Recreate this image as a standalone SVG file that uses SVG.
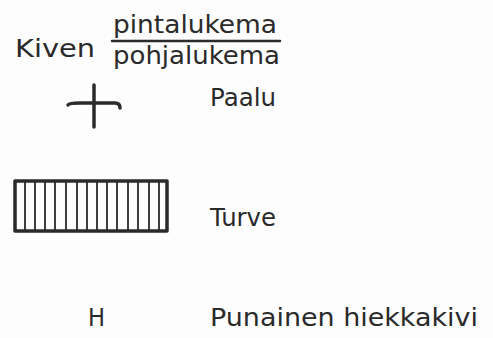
<svg xmlns="http://www.w3.org/2000/svg" width="493" height="338" viewBox="0 0 493 338">
<style>
text{font-family:"DejaVu Sans","Liberation Sans",sans-serif;font-size:24px;fill:#2a2a2a}
.ln{stroke:#2a2a2a;fill:none;stroke-linecap:round}
</style>
<rect width="493" height="338" fill="#fdfdfd"/>
<g id="title">
<text x="15" y="57" textLength="80" lengthAdjust="spacingAndGlyphs">Kiven</text>
<text x="113" y="33" textLength="164" lengthAdjust="spacingAndGlyphs">pintalukema</text>
<line class="ln" x1="112" y1="41" x2="280" y2="41" stroke-width="2.5"/>
<text x="113" y="64" textLength="167" lengthAdjust="spacingAndGlyphs">pohjalukema</text>
</g>
<g id="paalu">
<path class="ln" d="M94 85 V127" stroke-width="3.5"/>
<path class="ln" d="M68 105 Q69 103 80 103 H115 Q120 103 120 108" stroke-width="3.5"/>
<text x="210" y="106" textLength="66" lengthAdjust="spacingAndGlyphs">Paalu</text>
</g>
<g id="turve">
<rect class="ln" x="15" y="181" width="152" height="50" stroke-width="3.5" stroke-linejoin="round"/>
<path class="ln" stroke-width="1.8" d="M25 182V230M35 182V230M45 182V230M55 182V230M66 182V230M77 182V230M87 182V230M97 182V230M107 182V230M117 182V230M128 182V230M138 182V230M149 182V230M159 182V230"/>
<text x="210" y="226" textLength="66" lengthAdjust="spacingAndGlyphs">Turve</text>
</g>
<g id="hiekkakivi">
<text x="88" y="326" textLength="17" lengthAdjust="spacingAndGlyphs">H</text>
<text x="210" y="326" textLength="268" lengthAdjust="spacingAndGlyphs">Punainen hiekkakivi</text>
</g>
</svg>
